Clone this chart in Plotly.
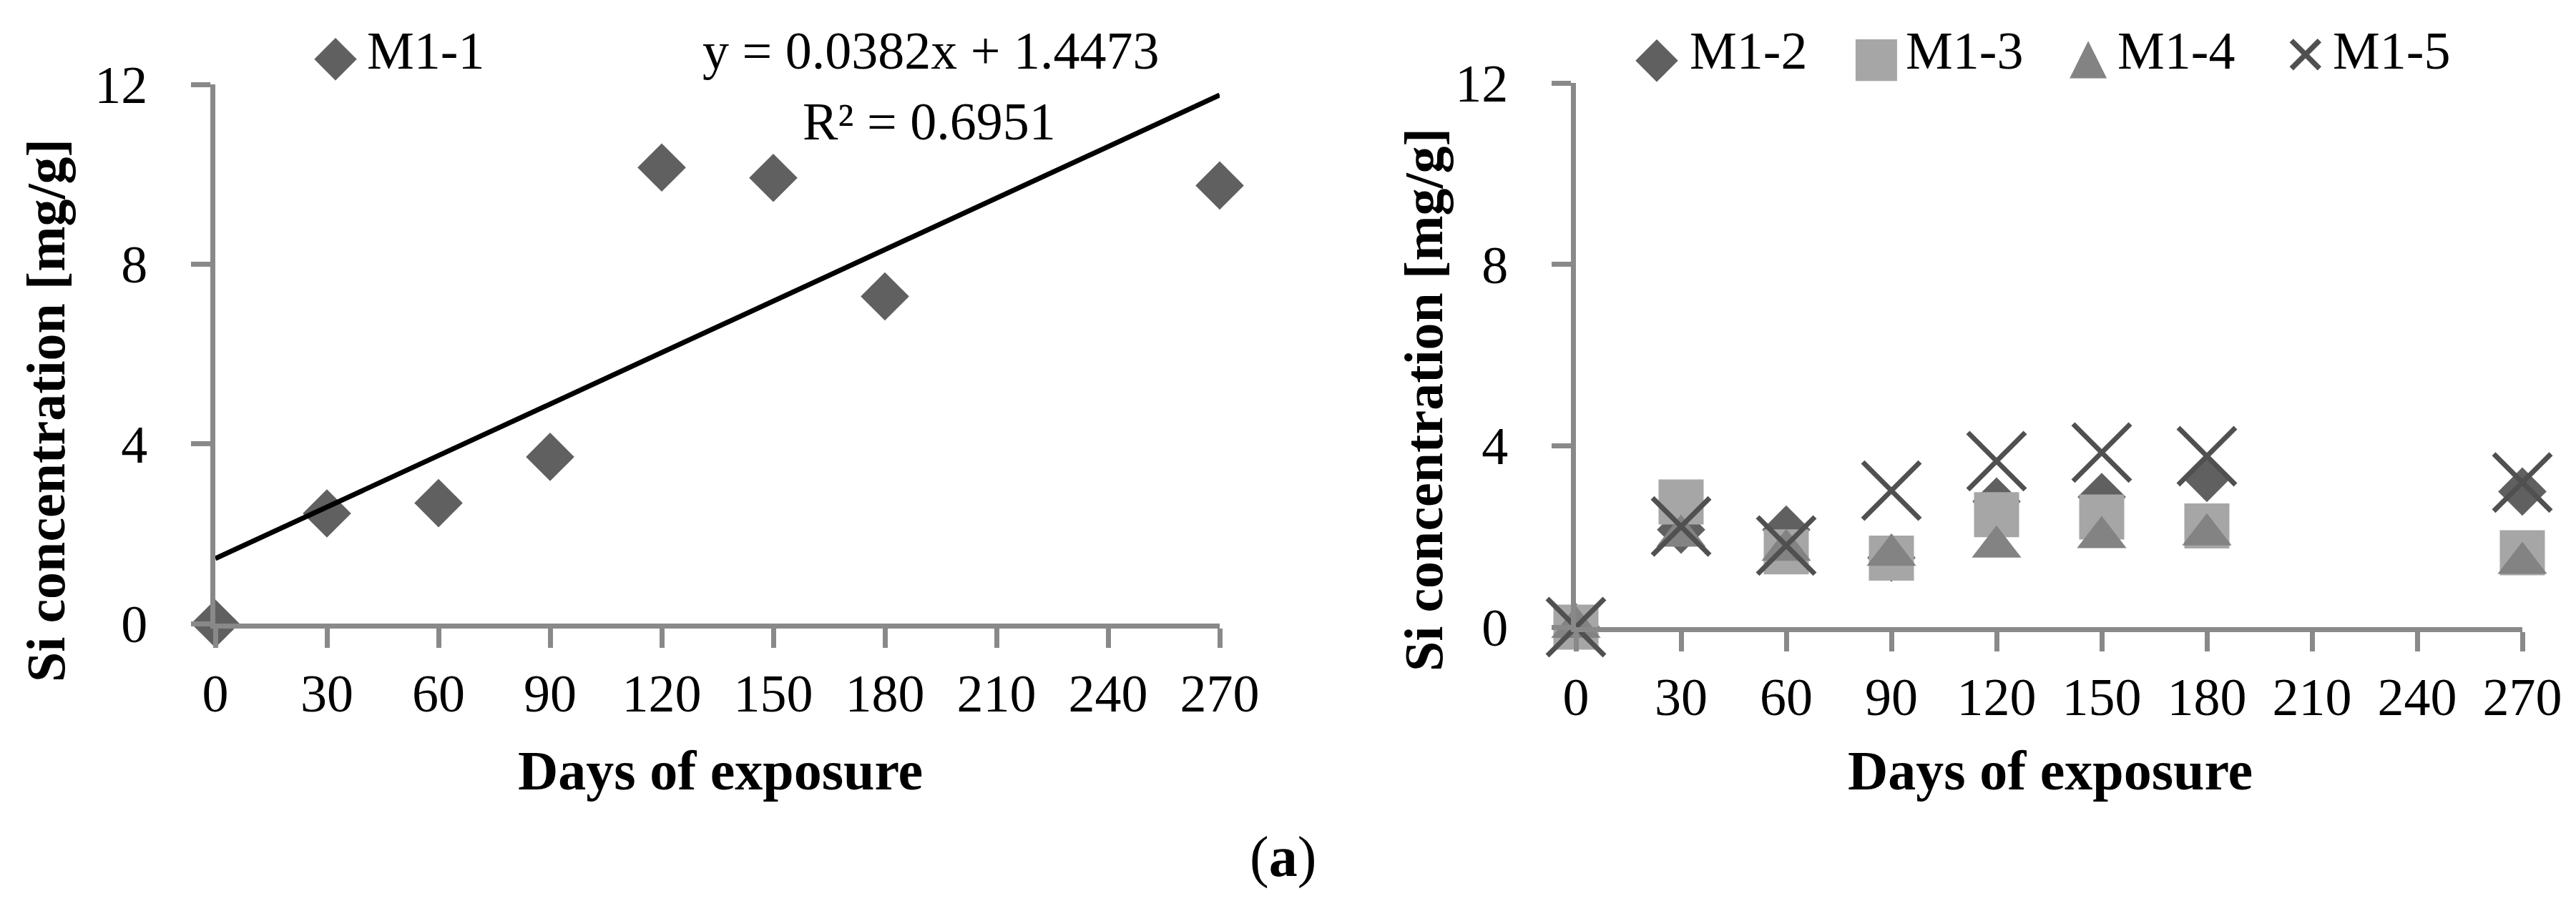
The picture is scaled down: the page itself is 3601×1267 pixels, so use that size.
import plotly.graph_objects as go

W, H = 3601, 1267

# ---------------- data ----------------
days = [0, 30, 60, 90, 120, 150, 180, 270]
m1_1 = [0, 2.45, 2.68, 3.71, 10.15, 9.92, 7.28, 9.75]
trend_slope = 0.0382
trend_intercept = 1.4473
trend_x = [0, 270]

m1_2 = [0, 2.15, 2.15, 1.53, 2.77, 2.87, 3.29, 2.99]
m1_3 = [0, 2.76, 1.66, 1.52, 2.48, 2.43, 2.23, 1.64]
m1_4 = [0, 2.01, 1.70, 1.59, 1.77, 1.98, 2.04, 1.41]
m1_5 = [0, 2.22, 1.80, 3.01, 3.66, 3.85, 3.77, 3.19]

x_ticks = [0, 30, 60, 90, 120, 150, 180, 210, 240, 270]
y_ticks = [0, 4, 8, 12]

# ---------------- styles ----------------
SERIF = "Liberation Serif"
AX = "#898989"
C_DIA = "#606060"
C_SQ = "#a6a6a6"
C_TRI = "#838383"
C_X = "#505050"
TICKFONT = dict(family=SERIF, size=74, color="black")

def px_x(p):
    return p / W

def px_y(p):
    return 1 - p / H

fig = go.Figure()

# left panel
fig.add_trace(go.Scatter(x=days, y=m1_1, mode="markers", name="M1-1",
                         marker=dict(symbol="diamond", size=52, color=C_DIA),
                         cliponaxis=False, xaxis="x", yaxis="y", showlegend=False))
trend_y = [trend_intercept + trend_slope * v for v in trend_x]
fig.add_trace(go.Scatter(x=trend_x, y=trend_y, mode="lines", name="Linear (M1-1)",
                         line=dict(color="black", width=7),
                         cliponaxis=False, xaxis="x", yaxis="y", showlegend=False))

# right panel
fig.add_trace(go.Scatter(x=days, y=m1_2, mode="markers", name="M1-2",
                         marker=dict(symbol="diamond", size=52, color=C_DIA),
                         cliponaxis=False, xaxis="x2", yaxis="y2", showlegend=False))
fig.add_trace(go.Scatter(x=days, y=m1_3, mode="markers", name="M1-3",
                         marker=dict(symbol="square", size=63, color=C_SQ),
                         cliponaxis=False, xaxis="x2", yaxis="y2", showlegend=False))
fig.add_trace(go.Scatter(x=days, y=m1_4, mode="markers", name="M1-4",
                         marker=dict(symbol="triangle-up", size=60, color=C_TRI),
                         cliponaxis=False, xaxis="x2", yaxis="y2", showlegend=False))
fig.add_trace(go.Scatter(x=days, y=m1_5, mode="markers", name="M1-5",
                         marker=dict(symbol="x-thin", size=80, color=C_X,
                                     line=dict(color=C_X, width=7)),
                         cliponaxis=False, xaxis="x2", yaxis="y2", showlegend=False))

common_x = dict(range=[0, 270], tickvals=x_ticks, ticktext=[str(v) for v in x_ticks],
                showline=True, linecolor=AX, linewidth=7,
                ticks="outside", ticklen=27, tickwidth=7, tickcolor=AX,
                showgrid=False, zeroline=False, tickfont=TICKFONT,
                ticklabelstandoff=0, fixedrange=True, automargin=False)
common_y = dict(range=[0, 12], tickvals=y_ticks, ticktext=[str(v) for v in y_ticks],
                showline=True, linecolor=AX, linewidth=7,
                ticks="outside", ticklen=27, tickwidth=7, tickcolor=AX,
                showgrid=False, zeroline=False, tickfont=TICKFONT,
                ticklabelstandoff=46, fixedrange=True, automargin=False)

fig.update_layout(
    template="none",
    width=W, height=H,
    margin=dict(l=0, r=0, t=0, b=0, autoexpand=False),
    paper_bgcolor="white", plot_bgcolor="white",
    showlegend=False,
    xaxis=dict(domain=[px_x(293), px_x(1697)], anchor="y", **common_x),
    yaxis=dict(domain=[px_y(864), px_y(110)], anchor="x", **common_y),
    xaxis2=dict(domain=[px_x(2195), px_x(3518)], anchor="y2", **common_x),
    yaxis2=dict(domain=[px_y(869), px_y(108)], anchor="x2", **common_y),
)

ann = []
def text(xp, yp, t, size=74, bold=False, angle=0, xanchor="center", color="black", family=SERIF):
    ann.append(dict(x=px_x(xp), y=px_y(yp), xref="paper", yref="paper",
                    text=(f"<b>{t}</b>" if bold else t), showarrow=False,
                    textangle=angle, xanchor=xanchor, yanchor="middle",
                    font=dict(family=family, size=size, color=color)))

# axis titles
text(56, 566, "Si concentration [mg/g]", size=76, bold=True, angle=-90)
text(1982, 551, "Si concentration [mg/g]", size=76, bold=True, angle=-90)
text(999, 1069, "Days of exposure", size=78, bold=True)
text(2858, 1069, "Days of exposure", size=78, bold=True)

# trendline label
text(1293, 63, "y = 0.0382x + 1.4473")
text(1291, 162, "R² = 0.6951")

# legends (symbol glyphs + labels)
SYM = "DejaVu Sans"
text(461, 68, "◆", size=78, color=C_DIA, family=SYM)
text(503, 63, "M1-1", xanchor="left")
text(2308, 70, "◆", size=78, color=C_DIA, family=SYM)
text(2352, 63, "M1-2", xanchor="left")
text(2615, 70, "■", size=76, color=C_SQ, family=SYM)
text(2654, 63, "M1-3", xanchor="left")
text(2911, 70, "▲", size=68, color=C_TRI, family=SYM)
text(2950, 63, "M1-4", xanchor="left")
text(3215, 70, "✕", size=76, color=C_X, family=SYM)
text(3251, 63, "M1-5", xanchor="left")

# panel label
text(1785, 1190, "(<b>a</b>)", size=80)

fig.update_layout(annotations=ann)
fig.write_html("out.html")
